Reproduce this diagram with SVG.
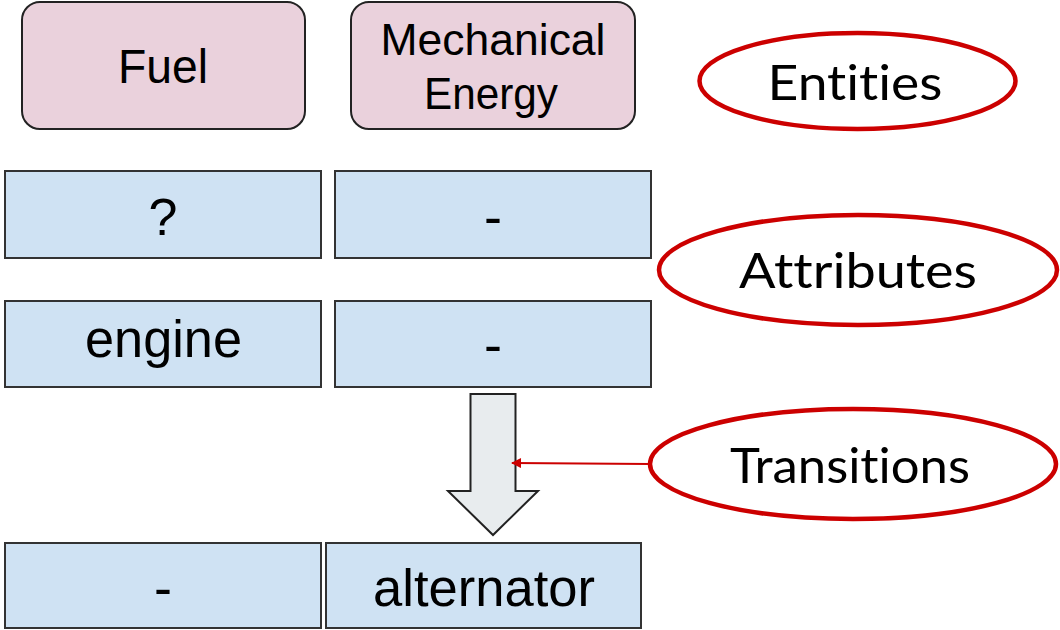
<svg xmlns="http://www.w3.org/2000/svg" width="1060" height="630" viewBox="0 0 1060 630">
<defs>
<style>
.ent{fill:#ead1dc;stroke:#222;stroke-width:2}
.att{fill:#cfe2f3;stroke:#333;stroke-width:2}
.lbl{font-family:"Liberation Sans",Arial,sans-serif;fill:#000;text-anchor:middle}
.ell{fill:none;stroke:#cc0000;stroke-width:4.5}
.etx{font-family:Lato,"Noto Sans",sans-serif;fill:#000;font-size:49px;text-anchor:middle;font-variant-ligatures:none;font-feature-settings:"liga" 0,"dlig" 0}
</style>
<marker id="ah" viewBox="0 0 10 10" refX="9" refY="5" markerWidth="6.5" markerHeight="5" orient="auto-start-reverse" markerUnits="strokeWidth">
<path d="M0,0 L10,5 L0,10 z" fill="#cc0000"/>
</marker>
</defs>
<rect width="1060" height="630" fill="#fff"/>
<g id="fuel"><rect class="ent" x="22" y="2" width="283" height="127" rx="18"/><text class="lbl" x="163" y="83" font-size="48" textLength="90" lengthAdjust="spacingAndGlyphs">Fuel</text></g>
<g id="mech"><rect class="ent" x="351" y="2" width="284" height="127" rx="18"/><text class="lbl" x="493" y="55" font-size="45" textLength="225" lengthAdjust="spacingAndGlyphs">Mechanical</text><text class="lbl" x="491" y="109" font-size="45" textLength="134" lengthAdjust="spacingAndGlyphs">Energy</text></g>
<g id="a1"><rect class="att" x="5" y="171" width="316" height="87"/><text class="lbl" x="163" y="235" font-size="52">?</text></g>
<g id="a2"><rect class="att" x="335" y="171" width="316" height="87"/><text class="lbl" x="493" y="235" font-size="54">-</text></g>
<g id="a3"><rect class="att" x="5" y="301" width="316" height="86"/><text class="lbl" x="163.5" y="357" font-size="51" textLength="157" lengthAdjust="spacingAndGlyphs">engine</text></g>
<g id="a4"><rect class="att" x="335" y="301" width="316" height="86"/><text class="lbl" x="493" y="363" font-size="54">-</text></g>
<g id="a5"><rect class="att" x="5" y="543" width="316" height="85"/><text class="lbl" x="163" y="606" font-size="54">-</text></g>
<g id="a6"><rect class="att" x="326" y="543" width="315" height="85"/><text class="lbl" x="484" y="606" font-size="51" textLength="222" lengthAdjust="spacingAndGlyphs">alternator</text></g>
<g id="transition-arrow"><path d="M470.5,394 L515.5,394 L515.5,491 L538,491 L493,535 L448,491 L470.5,491 Z" fill="#e8ecee" stroke="#222" stroke-width="2" stroke-linejoin="miter"/></g>
<g id="entities"><ellipse class="ell" cx="857.5" cy="81" rx="158" ry="48"/><text class="etx" x="855" y="100" textLength="175" lengthAdjust="spacingAndGlyphs">Entities</text></g>
<g id="attributes"><ellipse class="ell" cx="858" cy="270" rx="199" ry="55"/><text class="etx" x="858" y="288" textLength="238" lengthAdjust="spacingAndGlyphs">Attributes</text></g>
<g id="transitions"><ellipse class="ell" cx="853" cy="464" rx="203" ry="55"/><text class="etx" x="850" y="483" textLength="240" lengthAdjust="spacingAndGlyphs">Transitions</text></g>
<g id="connectors"><line x1="650" y1="464" x2="512" y2="463" stroke="#cc0000" stroke-width="2" marker-end="url(#ah)"/></g>
</svg>
